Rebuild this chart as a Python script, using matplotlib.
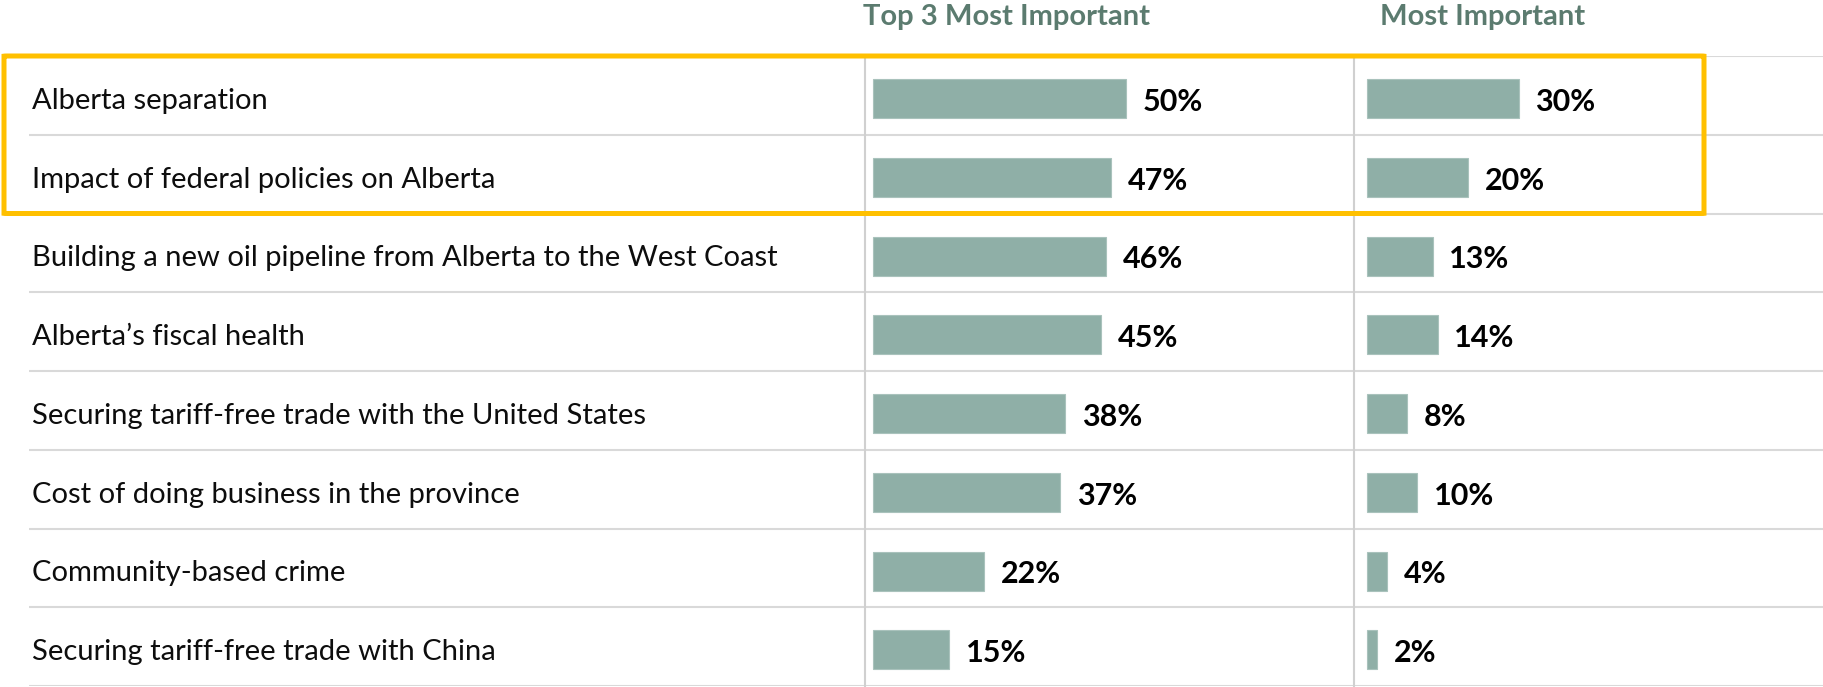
import matplotlib
matplotlib.use("Agg")
import matplotlib.pyplot as plt
from matplotlib.patches import FancyBboxPatch
import matplotlib.transforms as mtransforms

categories = [
    "Alberta separation",
    "Impact of federal policies on Alberta",
    "Building a new oil pipeline from Alberta to the West Coast",
    "Alberta\u2019s fiscal health",
    "Securing tariff-free trade with the United States",
    "Cost of doing business in the province",
    "Community-based crime",
    "Securing tariff-free trade with China",
]
top3 = [50, 47, 46, 45, 38, 37, 22, 15]
most = [30, 20, 13, 14, 8, 10, 4, 2]
headers = ["Top 3 Most Important", "Most Important"]
highlight_rows = [0, 1]

W, H = 1824, 687
DPI = 100
fig = plt.figure(figsize=(W / DPI, H / DPI), dpi=DPI)

BAR = "#8FAFA7"
GRID = "#D9D9D9"
HEAD = "#5B7B6F"
YELLOW = "#FFC000"
FONT = "Lato"

n = len(categories)
top_px, bot_px = 56, 686
bottom = (H - bot_px) / H
height = (bot_px - top_px) / H
row_px = (bot_px - top_px) / n
px_per_pct = 5.07

# background axes for row separators and category labels
ax0 = fig.add_axes([29 / W, bottom, 1 - 29 / W, height])
ax0.set_xlim(0, 1)
ax0.set_ylim(n - 0.5, -0.5)
ax0.axis("off")
for k in range(n + 1):
    ax0.axhline(k - 0.5, color=GRID, lw=1.5, zorder=0)
for i, c in enumerate(categories):
    ax0.text(3 / (W - 29), i + 13.5 / row_px, c, va="baseline", ha="left",
             fontsize=21, family=FONT, color="#0D0D0D")

def bar_axes(x0_px, x1_px, bar_start_px, values):
    ax = fig.add_axes([x0_px / W, bottom, (x1_px - x0_px) / W, height])
    off = (bar_start_px - x0_px) / px_per_pct
    span = (x1_px - x0_px) / px_per_pct
    ax.set_xlim(-off, span - off)
    ax.set_ylim(n - 0.5, -0.5)
    ax.patch.set_alpha(0)
    for s in ["top", "right", "bottom"]:
        ax.spines[s].set_visible(False)
    ax.spines["left"].set_color("#D0D0D0")
    ax.spines["left"].set_linewidth(1.5)
    ax.set_xticks([])
    ax.set_yticks([])
    ys = [i + 3.3 / row_px for i in range(n)]
    ax.barh(ys, values, height=39 / row_px, color=BAR, edgecolor="#A9C2BC",
            lw=0.8)
    for i, v in enumerate(values):
        ax.text(v + 3.3, i + 15.5 / row_px, f"{v}%", va="baseline", ha="left",
                fontsize=22, fontweight="bold", family=FONT, color="black")
    return ax

ax1 = bar_axes(865, 1354, 872.7, top3)
ax2 = bar_axes(1354, W, 1366.7, most)

fig.text(1006.7 / W, 1 - 25 / H, headers[0], ha="center", va="baseline",
         fontsize=21, fontweight="bold", family=FONT, color=HEAD)
fig.text(1483 / W, 1 - 25 / H, headers[1], ha="center", va="baseline",
         fontsize=21, fontweight="bold", family=FONT, color=HEAD)

# highlight box around first rows
trans = mtransforms.blended_transform_factory(fig.transFigure, ax0.transData)
y_top = min(highlight_rows) - 0.5
y_bot = max(highlight_rows) + 0.5
box = FancyBboxPatch((4 / W, y_top), (1704 - 4) / W, y_bot - y_top,
                     boxstyle="round,pad=0,rounding_size=0.002",
                     transform=trans, fill=False, edgecolor=YELLOW, lw=3.6,
                     clip_on=False, zorder=10)
fig.add_artist(box)

fig.savefig("out.png", dpi=DPI)
